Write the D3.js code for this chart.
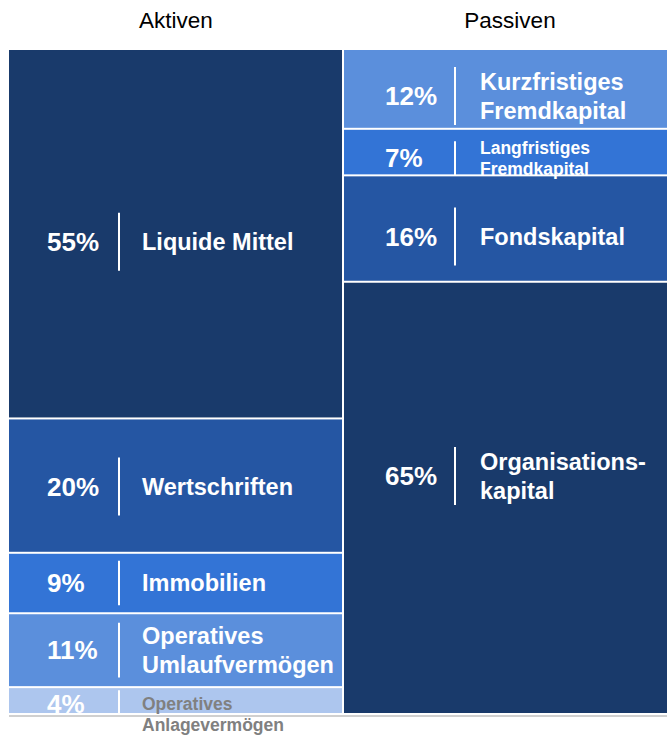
<!DOCTYPE html>
<html>
<head>
<meta charset="utf-8">
<script src="https://cdn.jsdelivr.net/npm/d3@7"></script>
<style>
  body { margin: 0; background: #fff; }
  text { font-family: "Liberation Sans", Arial, sans-serif; }
</style>
</head>
<body>
<div id="chart"></div>
<script>
const width = 667;
const height = 736;

const columns = ["Aktiven", "Passiven"];

const aktivenNames = ["Liquide Mittel", "Wertschriften", "Immobilien", "Operatives Umlaufvermögen", "Operatives Anlagevermögen"];
const aktivenValues = [55, 20, 9, 11, 4];

const passivenNames = ["Kurzfristiges Fremdkapital", "Langfristiges Fremdkapital", "Fondskapital", "Organisationskapital"];
const passivenValues = [12, 7, 16, 65];

// label lines as shown in the picture
const labelLines = {
  "Liquide Mittel": ["Liquide Mittel"],
  "Wertschriften": ["Wertschriften"],
  "Immobilien": ["Immobilien"],
  "Operatives Umlaufvermögen": ["Operatives", "Umlaufvermögen"],
  "Operatives Anlagevermögen": ["Operatives", "Anlagevermögen"],
  "Kurzfristiges Fremdkapital": ["Kurzfristiges", "Fremdkapital"],
  "Langfristiges Fremdkapital": ["Langfristiges", "Fremdkapital"],
  "Fondskapital": ["Fondskapital"],
  "Organisationskapital": ["Organisations-", "kapital"]
};

const colors = {
  "Liquide Mittel": "#193a6b",
  "Wertschriften": "#2556a3",
  "Immobilien": "#3374d6",
  "Operatives Umlaufvermögen": "#5b8fdc",
  "Operatives Anlagevermögen": "#adc6ee",
  "Kurzfristiges Fremdkapital": "#5b8fdc",
  "Langfristiges Fremdkapital": "#3374d6",
  "Fondskapital": "#2556a3",
  "Organisationskapital": "#193a6b"
};

// vertical nudges of the labels relative to the segment centre
const nudge = {
  "Liquide Mittel": 8,
  "Wertschriften": 1,
  "Kurzfristiges Fremdkapital": 7,
  "Langfristiges Fremdkapital": 6,
  "Fondskapital": 8,
  "Organisationskapital": -22
};

const yTop = 50, yBottom = 715;

const svg = d3.select("#chart")
  .append("svg")
  .attr("width", width)
  .attr("height", height);

const x = d3.scaleOrdinal()
  .domain(columns)
  .range([9, 344]);

const colWidth = { "Aktiven": 333, "Passiven": 330 };

const colData = {
  "Aktiven": aktivenNames.map((n, i) => ({ name: n, value: aktivenValues[i] })),
  "Passiven": passivenNames.map((n, i) => ({ name: n, value: passivenValues[i] }))
};

// column titles
svg.selectAll("text.title")
  .data(columns)
  .enter()
  .append("text")
  .attr("class", "title")
  .attr("x", d => d === "Aktiven" ? 176 : 510)
  .attr("y", 28)
  .attr("text-anchor", "middle")
  .attr("font-size", "22.5px")
  .attr("fill", "#000")
  .text(d => d);

columns.forEach(col => {
  const items = colData[col];
  const total = d3.sum(items, d => d.value);
  const y = d3.scaleLinear().domain([0, total]).range([yTop, yBottom]);
  let acc = 0;
  items.forEach(d => { d.y0 = acc; acc += d.value; d.y1 = acc; });

  const x0 = x(col);
  const bw = colWidth[col];

  const g = svg.append("g");

  g.selectAll("rect")
    .data(items)
    .enter()
    .append("rect")
    .attr("x", x0)
    .attr("y", d => y(d.y0))
    .attr("width", bw)
    .attr("height", d => y(d.y1) - y(d.y0) - 2)
    .attr("fill", d => colors[d.name]);

  const pctX = col === "Aktiven" ? x0 + 38 : x0 + 41;
  const lineX = col === "Aktiven" ? x0 + 110 : x0 + 111;
  const labX = col === "Aktiven" ? x0 + 133 : x0 + 136;

  items.forEach(d => {
    const ya = y(d.y0), yb = y(d.y1) - 2;
    const h = yb - ya;
    const small = h < 50;
    const cy = (ya + yb) / 2 + (nudge[d.name] || 0);
    const lines = labelLines[d.name];
    const isLast = d.name === "Operatives Anlagevermögen";

    g.append("text")
      .attr("x", pctX)
      .attr("y", isLast ? cy + 3 : cy)
      .attr("dy", "0.35em")
      .attr("text-anchor", "start")
      .attr("font-size", "26px")
      .attr("font-weight", "bold")
      .attr("fill", "#fff")
      .text(d.value + "%");

    const lh = isLast ? Math.max(h, 25) : Math.min(58, h * 0.76);
    g.append("line")
      .attr("x1", lineX).attr("x2", lineX)
      .attr("y1", isLast ? ya + 2 : cy - lh / 2)
      .attr("y2", isLast ? ya + 2 + lh : cy + lh / 2)
      .attr("stroke", "#fff")
      .attr("stroke-width", 2);

    const fs = small ? 17.5 : 23.5;
    const lineGap = small ? 21 : 29;
    const startY = isLast ? ya + 16 : cy - (lines.length - 1) * lineGap / 2;
    lines.forEach((t, i) => {
      g.append("text")
        .attr("x", labX)
        .attr("y", startY + i * lineGap)
        .attr("dy", "0.35em")
        .attr("font-size", fs + "px")
        .attr("font-weight", "bold")
        .attr("fill", isLast ? "#808080" : "#fff")
        .text(t);
    });
  });
});

// baseline
svg.append("line")
  .attr("x1", 9).attr("x2", width)
  .attr("y1", yBottom + 1).attr("y2", yBottom + 1)
  .attr("stroke", "#d0d0d0")
  .attr("stroke-width", 2);
</script>
</body>
</html>
